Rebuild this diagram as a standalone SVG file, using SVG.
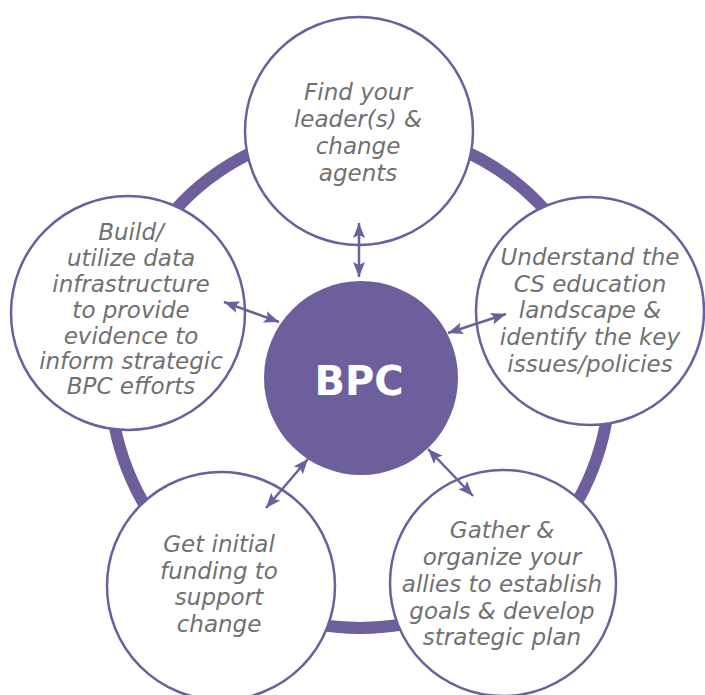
<svg xmlns="http://www.w3.org/2000/svg" width="705" height="695" viewBox="0 0 705 695">
<style>
.ring{fill:none;stroke:#6c5f9c;stroke-width:12}
.node{fill:#ffffff;stroke:#6c5f9c;stroke-width:2.5}
.hub{fill:#6c5f9c}
.lbl{font-family:"DejaVu Sans",sans-serif;font-style:italic;font-size:23px;fill:#707070;text-anchor:middle}
.hubl{font-family:"DejaVu Sans",sans-serif;font-weight:bold;font-size:40px;fill:#ffffff;text-anchor:middle}
.conn{stroke:#6c5f9c;stroke-width:2.5;fill:none;marker-start:url(#ah);marker-end:url(#ah)}
</style>
<defs>
<marker id="ah" viewBox="0 0 15 12" refX="15" refY="6" markerWidth="15" markerHeight="12" markerUnits="userSpaceOnUse" orient="auto-start-reverse">
<path d="M0,0 L15,6 L0,12 L3,6 z" fill="#6c5f9c"/>
</marker>
</defs>
<rect width="705" height="695" fill="#ffffff"/>
<circle class="ring" cx="360" cy="378" r="250"/>
<g id="node-top">
<circle class="node" cx="359" cy="131" r="114"/>
<text class="lbl"><tspan x="358" y="100">Find your</tspan><tspan x="358" y="127">leader(s) &amp;</tspan><tspan x="358" y="154">change</tspan><tspan x="358" y="181">agents</tspan></text>
</g>
<g id="node-left">
<circle class="node" cx="128" cy="313" r="117"/>
<text class="lbl"><tspan x="131" y="240">Build/</tspan><tspan x="131" y="266">utilize data</tspan><tspan x="131" y="292">infrastructure</tspan><tspan x="131" y="318">to provide</tspan><tspan x="131" y="344">evidence to</tspan><tspan x="131" y="369">inform strategic</tspan><tspan x="131" y="394">BPC efforts</tspan></text>
</g>
<g id="node-right">
<circle class="node" cx="590" cy="311" r="114"/>
<text class="lbl"><tspan x="590" y="265">Understand the</tspan><tspan x="590" y="292">CS education</tspan><tspan x="590" y="318">landscape &amp;</tspan><tspan x="590" y="345">identify the key</tspan><tspan x="590" y="372">issues/policies</tspan></text>
</g>
<g id="node-bottom-left">
<circle class="node" cx="221" cy="586" r="114"/>
<text class="lbl"><tspan x="219" y="552">Get initial</tspan><tspan x="219" y="579">funding to</tspan><tspan x="219" y="605">support</tspan><tspan x="219" y="632">change</tspan></text>
</g>
<g id="node-bottom-right">
<circle class="node" cx="503" cy="583" r="113"/>
<text class="lbl"><tspan x="502" y="538">Gather &amp;</tspan><tspan x="502" y="565">organize your</tspan><tspan x="502" y="592">allies to establish</tspan><tspan x="502" y="619">goals &amp; develop</tspan><tspan x="502" y="645">strategic plan</tspan></text>
</g>
<g id="node-hub">
<circle class="hub" cx="361" cy="378" r="97"/>
<text class="hubl" x="359" y="395">BPC</text>
</g>
<g id="connectors">
<line class="conn" x1="359" y1="223" x2="359" y2="277"/>
<line class="conn" x1="224" y1="302" x2="279" y2="322"/>
<line class="conn" x1="448" y1="333" x2="506" y2="314"/>
<line class="conn" x1="308" y1="459" x2="266" y2="508"/>
<line class="conn" x1="428" y1="449" x2="473" y2="496"/>
</g>
</svg>
